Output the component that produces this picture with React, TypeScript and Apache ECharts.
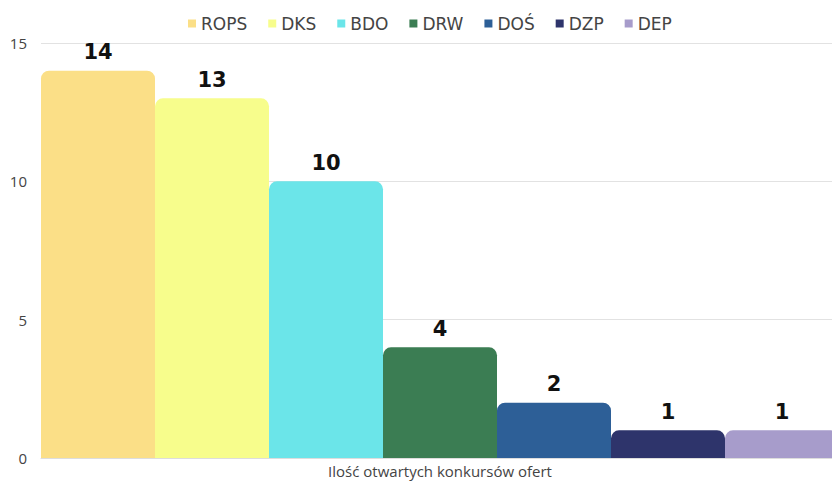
import React, { useEffect, useRef } from "react";
import * as echarts from "echarts";

const categories = ["Ilość otwartych konkursów ofert"];
const seriesNames = ["ROPS", "DKS", "BDO", "DRW", "DOŚ", "DZP", "DEP"];
const seriesValues = [14, 13, 10, 4, 2, 1, 1];
const seriesColors = ["#FBDF87", "#F7FD8C", "#6BE5E9", "#3B7D53", "#2D5F97", "#2E346B", "#A79CCB"];
const yTicks = { min: 0, max: 15, interval: 5 };

export default function App() {
  const ref = useRef<HTMLDivElement>(null);
  useEffect(() => {
    if (!ref.current) return;
    const chart = echarts.init(ref.current, undefined, { renderer: "svg" });
    chart.setOption({
      animation: false,
      textStyle: { fontFamily: "Open Sans" },
      legend: {
        top: 10,
        left: 183,
        itemWidth: 8,
        itemHeight: 8,
        itemGap: 21,
        icon: "rect",
        textStyle: { fontFamily: "DejaVu Sans", fontSize: 17, color: "#444" },
        data: seriesNames,
      },
      grid: { left: 41, right: 0, top: 43, bottom: 23 },
      xAxis: {
        type: "category",
        data: categories,
        axisTick: { show: false },
        axisLine: { lineStyle: { color: "#ddd" } },
        axisLabel: { color: "#444", fontSize: 15, margin: 5 },
      },
      yAxis: {
        type: "value",
        min: yTicks.min,
        max: yTicks.max,
        interval: yTicks.interval,
        axisLabel: { color: "#444", fontSize: 15, margin: 14 },
        splitLine: { lineStyle: { color: "#e2e2e2" } },
      },
      series: seriesNames.map((name, i) => ({
        name,
        type: "bar",
        data: [seriesValues[i]],
        barGap: "0%",
        barCategoryGap: "0%",
        itemStyle: { color: seriesColors[i], borderRadius: [8, 8, 0, 0] },
        label: {
          show: true,
          position: "top",
          distance: 8,
          color: "#111",
          fontSize: 21,
          fontWeight: "bold",
          fontFamily: "DejaVu Sans",
        },
      })),
    });
    return () => chart.dispose();
  }, []);
  return (
    <div style={{ position: "absolute", left: 0, top: 0, width: 832, height: 481, overflow: "hidden" }}>
      <div ref={ref} style={{ width: 839, height: 481 }} />
    </div>
  );
}
